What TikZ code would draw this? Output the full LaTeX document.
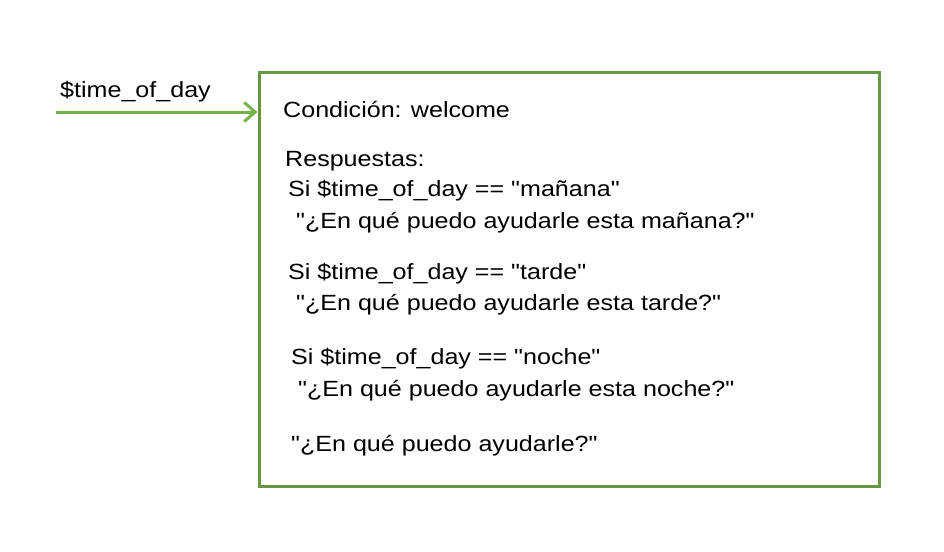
\documentclass[tikz,border=0pt]{standalone}
\usepackage{fontspec}
\setmainfont{Liberation Sans}[FakeStretch=1.14, Ligatures=TeXOff]
\usetikzlibrary{arrows.meta}
\definecolor{arrowgreen}{RGB}{118,178,76}
\definecolor{boxgreen}{RGB}{100,152,66}
\tikzset{
  txt/.style={anchor=base west, inner sep=0pt, font=\fontsize{22}{26}\selectfont},
  frame/.style={draw=boxgreen, line width=3pt},
  flow/.style={draw=arrowgreen, line width=3pt, -{Straight Barb[length=11pt,width=19pt]}}
}
\begin{document}
\begin{tikzpicture}[x=1pt,y=-1pt]
\useasboundingbox (0,0) rectangle (944,551);
\node[frame, minimum width=620pt, minimum height=414pt, anchor=north west, inner sep=0pt] (box) at (257.5,70.5) {};
\coordinate (src) at (56,112);
\coordinate (dst) at (box.west |- src);
\draw[flow] (src) -- (dst);
\node[txt] (var) at (60,97) {\$time\_of\_day};
\node[txt] (cond) at (283,117) {Condición: welcome};
\node[txt] (resp) at (285,166) {Respuestas:};
\node[txt] (si1) at (288,196) {Si \$time\_of\_day == "mañana"};
\node[txt] (en1) at (296,228) {"¿En qué puedo ayudarle esta mañana?"};
\node[txt] (si2) at (288,279) {Si \$time\_of\_day == "tarde"};
\node[txt] (en2) at (296,310) {"¿En qué puedo ayudarle esta tarde?"};
\node[txt] (si3) at (291,364) {Si \$time\_of\_day == "noche"};
\node[txt] (en3) at (298,396) {"¿En qué puedo ayudarle esta noche?"};
\node[txt] (en4) at (291,451) {"¿En qué puedo ayudarle?"};
\end{tikzpicture}
\end{document}
